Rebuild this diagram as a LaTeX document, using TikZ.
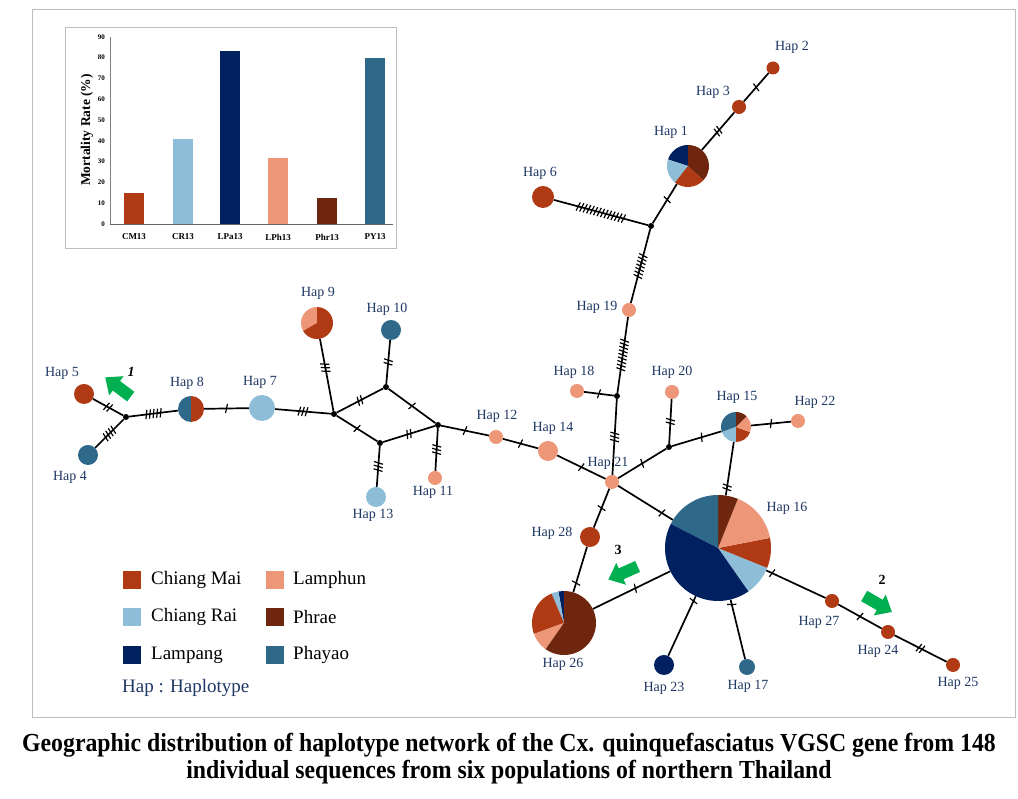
\documentclass[tikz,border=0pt]{standalone}
\usepackage{fontspec}
\setmainfont{Liberation Serif}
\newfontfamily\capfont[FakeStretch=0.915]{Liberation Serif}
\usetikzlibrary{decorations.markings}
\definecolor{cmai}{RGB}{175,58,20}
\definecolor{crai}{RGB}{142,189,216}
\definecolor{lpang}{RGB}{0,32,96}
\definecolor{lphun}{RGB}{238,150,120}
\definecolor{phrae}{RGB}{110,38,14}
\definecolor{phyao}{RGB}{47,105,138}
\definecolor{labelblue}{RGB}{31,56,100}
\definecolor{agreen}{RGB}{0,176,80}
\definecolor{framegray}{RGB}{190,190,190}
\newcommand\wedgepart[5]{\fill[#1] (#2.center) -- ++(#3:#5pt) arc[start angle=#3,end angle=#4,radius=#5pt] -- cycle;}
\newcommand\greenarrow[3]{\begin{scope}[shift={(#1,#2)},rotate=#3]\fill[agreen] (-16,-6) -- (2,-6) -- (2,-12) -- (16,0) -- (2,12) -- (2,6) -- (-16,6) -- cycle;\end{scope}}
\begin{document}
\begin{tikzpicture}[x=1pt,y=1pt,
  hap/.style={circle,inner sep=0pt,minimum size=#1},
  jn/.style={circle,fill=black,inner sep=0pt,minimum size=6pt},
  lbl/.style={text=labelblue,font=\fontsize{14}{16}\selectfont,inner sep=0pt},
  edge/.style={line width=1.7pt},
  mut/.style 2 args={postaction={decorate,decoration={markings,mark=at position #2 with {\foreach \k in {1,...,#1}{\draw[line width=1.2pt] ({(\k-(#1+1)/2)*3.6-1},-4.5) -- ({(\k-(#1+1)/2)*3.6+1},4.5);}}}}},
  axlbl/.style={font=\bfseries\fontsize{9}{10}\selectfont,inner sep=0pt},
  ticklbl/.style={font=\bfseries\fontsize{7}{8}\selectfont,anchor=east,inner sep=0pt},
  legtext/.style={font=\fontsize{19}{21}\selectfont,anchor=west,inner sep=0pt},
  legsq/.style={minimum size=18pt,inner sep=0pt},
  num/.style={font=\bfseries\fontsize{14}{15}\selectfont,inner sep=0pt}
]
\useasboundingbox (0,0) rectangle (1018,799);
\fill[white] (0,0) rectangle (1018,799);
\draw[framegray,line width=1pt] (32,81) rectangle (1015,789);

% ---------- inset bar chart ----------
\draw[framegray,line width=0.8pt] (65,551) rectangle (396,772);
\draw[gray,line width=0.6pt] (110,575) -- (110,762);
\draw[gray!80!black,line width=0.8pt] (110,575) -- (393,575);
\foreach \v in {0,10,...,90}{\node[ticklbl] at (105,{575+\v*2.08}) {\v};}
\node[rotate=90,font=\bfseries\fontsize{13.5}{15}\selectfont] (ytitle) at (87,669) {Mortality Rate (\%)};
\fill[cmai]  (124,575) rectangle (144,606.2);
\fill[crai]  (173,575) rectangle (193,660.3);
\fill[lpang] (220,575) rectangle (240,747.6);
\fill[lphun] (268,575) rectangle (288,640.5);
\fill[phrae] (317,575) rectangle (337,601);
\fill[phyao] (365,575) rectangle (385,741.4);
\node[axlbl] (x1) at (134,562) {CM13};
\node[axlbl] (x2) at (183,562) {CR13};
\node[axlbl] (x3) at (230,562) {LPa13};
\node[axlbl] (x4) at (278,562) {LPh13};
\node[axlbl] (x5) at (327,562) {Phr13};
\node[axlbl] (x6) at (375,562) {PY13};

% ---------- haplotype nodes ----------
\node[hap=13pt,fill=cmai] (h2) at (773,731) {};
\node[hap=14pt,fill=cmai] (h3) at (739,692) {};
\node[hap=42pt] (h1) at (688,633) {};
\node[hap=22pt,fill=cmai] (h6) at (543,602) {};
\node[jn] (A) at (651,573) {};
\node[hap=14pt,fill=lphun] (h19) at (629,489) {};
\node[jn] (B) at (617,403) {};
\node[hap=14pt,fill=lphun] (h18) at (577,408) {};
\node[hap=14pt,fill=lphun] (h21) at (612,317) {};
\node[hap=14pt,fill=lphun] (h20) at (672,407) {};
\node[jn] (C) at (669,352) {};
\node[hap=30pt] (h15) at (736,372) {};
\node[hap=14pt,fill=lphun] (h22) at (798,378) {};
\node[hap=106pt] (h16) at (718,251) {};
\node[hap=20pt,fill=lphun] (h14) at (548,348) {};
\node[hap=14pt,fill=lphun] (h12) at (496,362) {};
\node[hap=20pt,fill=cmai] (h28) at (590,262) {};
\node[hap=64pt] (h26) at (564,176) {};
\node[hap=20pt,fill=lpang] (h23) at (664,134) {};
\node[hap=16pt,fill=phyao] (h17) at (747,132) {};
\node[hap=14pt,fill=cmai] (h27) at (832,198) {};
\node[hap=14pt,fill=cmai] (h24) at (888,167) {};
\node[hap=14pt,fill=cmai] (h25) at (953,134) {};
\node[hap=20pt,fill=cmai] (h5) at (84,405) {};
\node[hap=20pt,fill=phyao] (h4) at (88,344) {};
\node[jn] (D) at (126,382) {};
\node[hap=26pt] (h8) at (191,390) {};
\node[hap=26pt,fill=crai] (h7) at (262,391) {};
\node[jn] (E) at (334,385) {};
\node[hap=32pt] (h9) at (317,476) {};
\node[hap=20pt,fill=phyao] (h10) at (391,469) {};
\node[jn] (F) at (386,412) {};
\node[jn] (G) at (380,356) {};
\node[jn] (H) at (438,374) {};
\node[hap=14pt,fill=lphun] (h11) at (435,321) {};
\node[hap=20pt,fill=crai] (h13) at (376,302) {};

% pies
\wedgepart{lpang}{h1}{90}{162}{21}
\wedgepart{crai}{h1}{162}{232}{21}
\wedgepart{cmai}{h1}{232}{318}{21}
\wedgepart{phrae}{h1}{318}{450}{21}
\wedgepart{phyao}{h15}{90}{200}{15}
\wedgepart{crai}{h15}{200}{270}{15}
\wedgepart{cmai}{h15}{270}{340}{15}
\wedgepart{lphun}{h15}{340}{405}{15}
\wedgepart{phrae}{h15}{405}{450}{15}
\wedgepart{crai}{h16}{305}{338}{53}
\wedgepart{cmai}{h16}{338}{371}{53}
\wedgepart{lphun}{h16}{371}{428}{53}
\wedgepart{phrae}{h16}{428}{450}{53}
\wedgepart{phyao}{h16}{450}{513}{53}
\wedgepart{lpang}{h16}{513}{665}{53}
\wedgepart{lpang}{h26}{90}{100}{32}
\wedgepart{crai}{h26}{100}{113}{32}
\wedgepart{cmai}{h26}{113}{200}{32}
\wedgepart{lphun}{h26}{200}{235}{32}
\wedgepart{phrae}{h26}{235}{450}{32}
\wedgepart{lphun}{h9}{90}{210}{16}
\wedgepart{cmai}{h9}{210}{450}{16}
\wedgepart{phyao}{h8}{90}{270}{13}
\wedgepart{cmai}{h8}{270}{450}{13}

% ---------- connectors ----------
\draw[edge,mut={1}{0.5}] (h2) -- (h3);
\draw[edge,mut={2}{0.5}] (h3) -- (h1);
\draw[edge,mut={1}{0.4}] (h1) -- (A);
\draw[edge,mut={14}{0.5}] (h6) -- (A);
\draw[edge,mut={7}{0.5}] (A) -- (h19);
\draw[edge,mut={9}{0.5}] (h19) -- (B);
\draw[edge,mut={1}{0.5}] (h18) -- (B);
\draw[edge,mut={3}{0.5}] (B) -- (h21);
\draw[edge,mut={2}{0.5}] (h20) -- (C);
\draw[edge,mut={1}{0.5}] (C) -- (h21);
\draw[edge,mut={1}{0.6}] (C) -- (h15);
\draw[edge,mut={1}{0.5}] (h15) -- (h22);
\draw[edge,mut={2}{0.85}] (h15) -- (h16);
\draw[edge,mut={1}{0.5}] (h14) -- (h21);
\draw[edge,mut={1}{0.5}] (h12) -- (h14);
\draw[edge,mut={1}{0.8}] (h21) -- (h16);
\draw[edge,mut={1}{0.5}] (h21) -- (h28);
\draw[edge,mut={1}{0.8}] (h28) -- (h26);
\draw[edge,mut={1}{0.55}] (h26) -- (h16);
\draw[edge,mut={1}{0.08}] (h16) -- (h23);
\draw[edge,mut={1}{0.08}] (h16) -- (h17);
\draw[edge,mut={1}{0.1}] (h16) -- (h27);
\draw[edge,mut={1}{0.5}] (h27) -- (h24);
\draw[edge,mut={2}{0.5}] (h24) -- (h25);
\draw[edge,mut={2}{0.5}] (h5) -- (D);
\draw[edge,mut={4}{0.5}] (h4) -- (D);
\draw[edge,mut={5}{0.5}] (D) -- (h8);
\draw[edge,mut={1}{0.5}] (h8) -- (h7);
\draw[edge,mut={3}{0.5}] (h7) -- (E);
\draw[edge,mut={3}{0.4}] (h9) -- (E);
\draw[edge,mut={2}{0.5}] (E) -- (F);
\draw[edge,mut={1}{0.5}] (E) -- (G);
\draw[edge,mut={1}{0.5}] (F) -- (H);
\draw[edge,mut={2}{0.5}] (G) -- (H);
\draw[edge,mut={2}{0.5}] (h10) -- (F);
\draw[edge,mut={3}{0.5}] (H) -- (h11);
\draw[edge,mut={3}{0.5}] (G) -- (h13);
\draw[edge,mut={1}{0.5}] (H) -- (h12);

% ---------- labels ----------
\node[lbl] (l2) at (792,752) {Hap 2};
\node[lbl] (l3) at (713,707) {Hap 3};
\node[lbl] (l1) at (671,667) {Hap 1};
\node[lbl] (l6) at (540,626) {Hap 6};
\node[lbl] (l19) at (597,492) {Hap 19};
\node[lbl] (l18) at (574,427) {Hap 18};
\node[lbl] (l21) at (608,336) {Hap 21};
\node[lbl] (l20) at (672,427) {Hap 20};
\node[lbl] (l15) at (737,402) {Hap 15};
\node[lbl] (l22) at (815,397) {Hap 22};
\node[lbl] (l16) at (787,291) {Hap 16};
\node[lbl] (l14) at (553,371) {Hap 14};
\node[lbl] (l12) at (497,383) {Hap 12};
\node[lbl] (l28) at (552,266) {Hap 28};
\node[lbl] (l26) at (563,135) {Hap 26};
\node[lbl] (l23) at (664,111) {Hap 23};
\node[lbl] (l17) at (748,113) {Hap 17};
\node[lbl] (l27) at (819,177) {Hap 27};
\node[lbl] (l24) at (878,148) {Hap 24};
\node[lbl] (l25) at (958,116) {Hap 25};
\node[lbl] (l5) at (62,426) {Hap 5};
\node[lbl] (l4) at (70,322) {Hap 4};
\node[lbl] (l8) at (187,416) {Hap 8};
\node[lbl] (l7) at (260,417) {Hap 7};
\node[lbl] (l9) at (318,506) {Hap 9};
\node[lbl] (l10) at (387,490) {Hap 10};
\node[lbl] (l11) at (433,307) {Hap 11};
\node[lbl] (l13) at (373,284) {Hap 13};

% ---------- green arrows ----------
\greenarrow{118}{412}{143}
\greenarrow{878}{195}{-30}
\greenarrow{623}{226}{204}
\node[num,font=\bfseries\itshape\fontsize{14}{15}\selectfont] (n1) at (131,427) {1};
\node[num] (n2) at (882,219) {2};
\node[num] (n3) at (618,249) {3};

% ---------- legend ----------
\node[legsq,fill=cmai] (s1) at (132,219) {};
\node[legtext] (t1) at (151,219) {Chiang Mai};
\node[legsq,fill=crai] (s2) at (132,182) {};
\node[legtext] (t2) at (151,182) {Chiang Rai};
\node[legsq,fill=lpang] (s3) at (132,144) {};
\node[legtext] (t3) at (151,144) {Lampang};
\node[legsq,fill=lphun] (s4) at (275,219) {};
\node[legtext] (t4) at (293,219) {Lamphun};
\node[legsq,fill=phrae] (s5) at (275,182) {};
\node[legtext] (t5) at (293,182) {Phrae};
\node[legsq,fill=phyao] (s6) at (275,144) {};
\node[legtext] (t6) at (293,144) {Phayao};
\node[legtext,text=labelblue] (t7) at (122,111) {Hap : Haplotype};

% ---------- caption ----------
\node[font=\capfont\bfseries\fontsize{26}{29}\selectfont,inner sep=0pt] (cap1) at (509,54) {Geographic distribution of haplotype network of the Cx. quinquefasciatus VGSC gene from 148};
\node[font=\capfont\bfseries\fontsize{26}{29}\selectfont,inner sep=0pt] (cap2) at (509,27) {individual sequences from six populations of northern Thailand};
\end{tikzpicture}
\end{document}
